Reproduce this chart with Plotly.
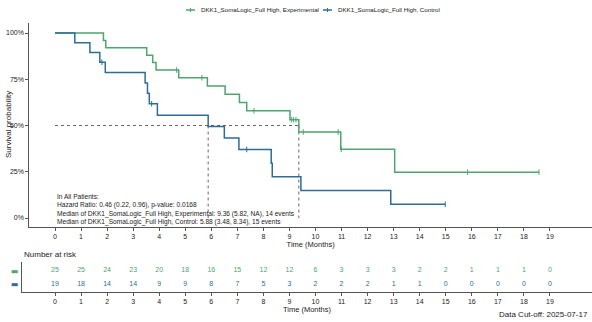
import plotly.graph_objects as go

W, H = 592, 322

exp_name = "DKK1_SomaLogic_Full High, Experimental"
ctl_name = "DKK1_SomaLogic_Full High, Control"

# event / censor times (months)
exp_events = [1.86, 1.95, 3.52, 3.75, 3.88, 4.75, 5.85, 6.53, 7.08, 7.36, 9.02, 9.36, 10.97, 13.04]
exp_censor = [4.67, 5.64, 7.64, 9.07, 9.15, 9.25, 9.53, 10.87, 10.99, 15.84, 18.58]
ctl_events = [0.76, 1.34, 1.72, 1.93, 3.46, 3.55, 3.62, 3.93, 5.88, 6.50, 7.06, 8.30, 8.34, 9.44, 12.89]
ctl_censor = [1.80, 3.71, 7.36, 14.98]

medians = [9.36, 5.88]

risk_times = list(range(20))
exp_risk = [25, 25, 24, 23, 20, 18, 16, 15, 12, 12, 6, 3, 3, 3, 2, 2, 1, 1, 1, 0]
ctl_risk = [19, 18, 14, 14, 9, 9, 8, 7, 5, 3, 2, 2, 2, 1, 1, 0, 0, 0, 0, 0]

x_ticks = list(range(20))
y_ticks = [0, 0.25, 0.5, 0.75, 1.0]
y_labels = ["0%", "25%", "50%", "75%", "100%"]

info_lines = [
    "In All Patients:",
    "Hazard Ratio: 0.46 (0.22, 0.96), p-value: 0.0168",
    "Median of DKK1_SomaLogic_Full High, Experimental: 9.36 (5.82, NA), 14 events",
    "Median of DKK1_SomaLogic_Full High, Control: 5.88 (3.48, 8.34), 15 events",
]

green = "#4EA56E"
blue = "#2E6C99"
grey = "#555555"
FONT = "Liberation Sans, Arial, sans-serif"


def km(events, censors):
    recs = sorted([(t, 1) for t in events] + [(t, 0) for t in censors])
    n = len(recs)
    s = 1.0
    xs, ys, cx, cy = [0.0], [1.0], [], []
    for t, e in recs:
        if e:
            s *= (n - 1) / n
            xs.append(t)
            ys.append(s)
        else:
            cx.append(t)
            cy.append(s)
        n -= 1
    xs.append(recs[-1][0])
    ys.append(s)
    return xs, ys, cx, cy


fig = go.Figure()

# median reference lines
fig.add_trace(go.Scatter(x=[0, max(medians)], y=[0.5, 0.5], mode="lines",
                         line=dict(color="#666666", width=1, dash="dot"),
                         showlegend=False, hoverinfo="skip"))
for m in medians:
    fig.add_trace(go.Scatter(x=[m, m], y=[0.5, 0], mode="lines",
                             line=dict(color="#666666", width=1, dash="dot"),
                             showlegend=False, hoverinfo="skip"))

for ev, ce, col in [(exp_events, exp_censor, green), (ctl_events, ctl_censor, blue)]:
    xs, ys, cx, cy = km(ev, ce)
    fig.add_trace(go.Scatter(x=xs, y=ys, mode="lines", line=dict(color=col, width=1.5, shape="hv"),
                             showlegend=False))
    fig.add_trace(go.Scatter(x=cx, y=cy, mode="markers",
                             marker=dict(symbol="line-ns", size=4, line=dict(color=col, width=1)),
                             showlegend=False))

# number at risk
fig.add_trace(go.Scatter(x=risk_times, y=[1] * len(risk_times), text=[str(v) for v in exp_risk],
                         mode="text", textfont=dict(color=green, size=7, family=FONT),
                         xaxis="x2", yaxis="y2", showlegend=False))
fig.add_trace(go.Scatter(x=risk_times, y=[0] * len(risk_times), text=[str(v) for v in ctl_risk],
                         mode="text", textfont=dict(color=blue, size=7, family=FONT),
                         xaxis="x2", yaxis="y2", showlegend=False))

px = 26.05  # pixels per month
x0_main = 29.3
x_start = -(55 - x0_main) / px
x_end = x_start + (W - x0_main) / px
x0_risk = 22
xr_start = -(55 - x0_risk) / px
xr_end = xr_start + (W - x0_risk) / px

axis_common = dict(showline=True, linecolor=grey, linewidth=1, ticks="outside", ticklen=3,
                   tickcolor=grey, tickfont=dict(size=7, color="#222", family=FONT),
                   showgrid=False, zeroline=False)

fig.update_layout(
    width=W, height=H, margin=dict(l=0, r=0, t=0, b=0),
    paper_bgcolor="white", plot_bgcolor="white",
    font=dict(family=FONT, color="#222"),
    showlegend=False,
    xaxis=dict(domain=[x0_main / W, 1], range=[x_start, x_end], tickvals=x_ticks,
               title=dict(text="Time (Months)", font=dict(size=7.5), standoff=2), **axis_common),
    yaxis=dict(domain=[1 - 227 / H, 1 - 23 / H], range=[-9 / 185, 1 + 10 / 185],
               tickvals=y_ticks, ticktext=y_labels, **axis_common),
    xaxis2=dict(domain=[x0_risk / W, 1], range=[xr_start, xr_end], tickvals=x_ticks, anchor="y2",
                title=dict(text="Time (Months)", font=dict(size=7.5), standoff=2), **axis_common),
    yaxis2=dict(domain=[1 - 291.7 / H, 1 - 262 / H], range=[-0.58, 1.654], anchor="x2",
                showline=True, linecolor=grey, linewidth=1, ticks="", showgrid=False, zeroline=False,
                tickvals=[1, 0], ticklabelstandoff=1,
                ticktext=[f'<span style="color:{green}">▬</span>', f'<span style="color:{blue}">▬</span>'],
                tickfont=dict(size=8, family="DejaVu Sans")),
)

# y-axis title
fig.add_annotation(x=8 / W, y=1 - 125 / H, xref="paper", yref="paper", text="Survival probability",
                   textangle=-90, showarrow=False, xanchor="center", yanchor="middle",
                   font=dict(size=8, color="#222"))

# info text
for i, line in enumerate(info_lines):
    ypix = 196.7 + i * 8.43
    fig.add_annotation(x=0, y=(218 - ypix) / 185, xref="x", yref="y", text=line, showarrow=False,
                       xanchor="left", yanchor="middle", font=dict(size=6.6, color="#222", family=FONT))

fig.add_annotation(x=x0_risk / W, y=1 - 254 / H, xref="paper", yref="paper", text="Number at risk",
                   showarrow=False, xanchor="left", yanchor="middle", font=dict(size=8, color="#222"))
fig.add_annotation(x=590 / W, y=1 - 314 / H, xref="paper", yref="paper", text="Data Cut-off: 2025-07-17",
                   showarrow=False, xanchor="right", yanchor="middle", font=dict(size=8, color="#222"))

# legend (manual)
legend_items = [(exp_name, green, 186), (ctl_name, blue, 323)]
for name, col, gx in legend_items:
    fig.add_shape(type="line", xref="paper", yref="paper", x0=gx / W, x1=(gx + 9) / W,
                  y0=1 - 10 / H, y1=1 - 10 / H, line=dict(color=col, width=1.5))
    fig.add_shape(type="line", xref="paper", yref="paper", x0=(gx + 4.5) / W, x1=(gx + 4.5) / W,
                  y0=1 - 8 / H, y1=1 - 12 / H, line=dict(color=col, width=1))
    fig.add_annotation(x=(gx + 13) / W, y=1 - 10 / H, xref="paper", yref="paper", text=name,
                       showarrow=False, xanchor="left", yanchor="middle", font=dict(size=6.2, color="#222"))

fig.write_html("out.html")
